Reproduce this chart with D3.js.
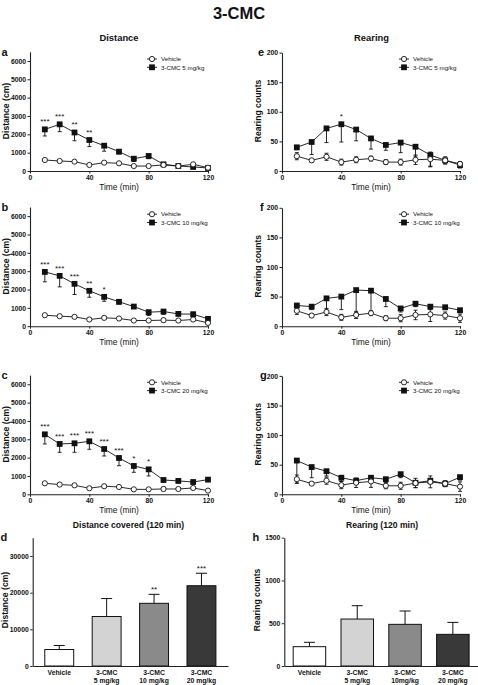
<!DOCTYPE html>
<html>
<head>
<meta charset="utf-8">
<script src="https://cdn.jsdelivr.net/npm/d3@7"></script>
<style>
  body { margin: 0; background: #fff; }
  svg text { font-family: "Liberation Sans", Arial, Helvetica, sans-serif; fill: #111; }
</style>
</head>
<body>
<svg id="fig" width="478" height="685"></svg>
<script>
// time points (min)
const timePoints = [10, 20, 30, 40, 50, 60, 70, 80, 90, 100, 110, 120];
const timeTicks = [0, 40, 80, 120];
const distTicks = [0, 1000, 2000, 3000, 4000, 5000, 6000];
const rearTicks = [0, 50, 100, 150, 200];

// a: distance, vehicle vs 3-CMC 5 mg/kg
const vehDistA = [600, 545, 510, 330, 455, 420, 270, 270, 330, 270, 365, 180];
const vehDistAErr = [60, 50, 50, 60, 70, 50, 40, 50, 100, 60, 80, 50];
const cmc5Dist = [2270, 2545, 2100, 1690, 1380, 1055, 670, 820, 365, 270, 220, 165];
const cmc5DistErr = [360, 400, 450, 360, 300, 120, 150, 150, 100, 80, 60, 50];
const starsA = ["***", "***", "**", "**", "", "", "", "", "", "", "", ""];

// b: distance, vehicle vs 3-CMC 10 mg/kg
const vehDistB = [600, 545, 510, 365, 455, 420, 310, 310, 330, 310, 365, 180];
const vehDistBErr = [60, 50, 50, 60, 70, 50, 40, 50, 100, 60, 80, 50];
const cmc10Dist = [2960, 2745, 2310, 1930, 1600, 1330, 1070, 765, 800, 670, 655, 400];
const cmc10DistErr = [540, 600, 580, 350, 240, 120, 100, 180, 150, 100, 100, 80];
const starsB = ["***", "***", "***", "**", "*", "", "", "", "", "", "", ""];

// c: distance, vehicle vs 3-CMC 20 mg/kg
const vehDistC = [600, 530, 490, 330, 440, 400, 270, 270, 290, 290, 345, 200];
const vehDistCErr = [60, 50, 50, 60, 70, 50, 40, 50, 100, 60, 80, 50];
const cmc20Dist = [3270, 2745, 2780, 2890, 2470, 1980, 1545, 1360, 780, 730, 670, 800];
const cmc20DistErr = [525, 455, 490, 435, 380, 420, 345, 360, 100, 100, 100, 80];
const starsC = ["***", "***", "***", "***", "***", "***", "*", "*", "", "", "", ""];

// e: rearing, vehicle vs 3-CMC 5 mg/kg
const vehRearE = [25, 18, 24, 15, 19, 21, 15, 15, 19, 20, 18, 12];
const vehRearEErr = [6, 3, 6, 5, 5, 4, 4, 5, 8, 12, 6, 4];
const cmc5Rear = [40, 49, 72, 79, 70, 55, 44, 48, 41, 27, 18, 10];
const cmc5RearErr = [4, 21, 24, 30, 19, 18, 9, 17, 16, 20, 6, 5];
const starsE = ["", "", "", "*", "", "", "", "", "", "", "", ""];

// f: rearing, vehicle vs 3-CMC 10 mg/kg
const vehRearF = [26, 18, 24, 15, 19, 22, 13.5, 13.5, 19, 20, 18, 13.5];
const vehRearFErr = [6, 3, 6, 5, 6, 4, 4, 6, 8, 12, 6, 7];
const cmc10Rear = [35, 33, 47, 50, 61, 60, 46, 30, 38, 33, 32, 27];
const cmc10RearErr = [4, 5, 20, 22, 38, 35, 13, 6, 5, 5, 4, 4];
const starsF = ["", "", "", "", "", "", "", "", "", "", "", ""];

// g: rearing, vehicle vs 3-CMC 20 mg/kg
const vehRearG = [25.5, 18, 23, 15.5, 19.5, 21.7, 14.4, 14.4, 19, 21, 18, 13];
const vehRearGErr = [7, 3, 6, 6, 8, 10, 5, 6, 8, 10, 5, 8];
const cmc20Rear = [57, 46, 39, 28, 23, 28, 25.5, 34, 19.5, 23, 18, 29];
const cmc20RearErr = [38, 18, 8, 6, 5, 6, 5, 6, 8, 5, 5, 5];
const starsG = ["", "", "", "", "", "", "", "", "", "", "", ""];

// d / h: totals over 120 min
const groups = ["Vehicle", "3-CMC 5", "3-CMC 10", "3-CMC 20"];
const groupLine1 = ["Vehicle", "3-CMC", "3-CMC", "3-CMC"];
const groupLine2D = ["", "5 mg/kg", "10 mg/kg", "20 mg/kg"];
const groupLine2H = ["", "5 mg/kg", "10mg/kg", "20 mg/kg"];
const groupColors = ["#ffffff", "#d3d3d3", "#8a8a8a", "#393939"];
const distTotal = [4500, 13500, 17100, 21900];
const distTotalErr = [1100, 4900, 2450, 3400];
const distTotalStars = ["", "", "**", "***"];
const distTotalTicks = [0, 10000, 20000, 30000];
const rearTotal = [226, 549, 487, 370];
const rearTotalErr = [51, 156, 156, 140];
const rearTotalStars = ["", "", "", ""];
const rearTotalTicks = [0, 500, 1000, 1500];

const svg = d3.select("#fig");
const plain = d3.format("d");

function styleAxis(g) {
  g.select(".domain").attr("stroke", "#222").attr("stroke-width", 1.1);
  g.selectAll(".tick line").attr("stroke", "#222").attr("stroke-width", 1);
  g.selectAll(".tick text")
    .style("font-size", "6.8px")
    .style("font-weight", "bold")
    .attr("fill", "#111");
}

function addText(x, y, txt, size, weight, anchor) {
  return svg.append("text")
    .attr("x", x).attr("y", y)
    .attr("text-anchor", anchor || "middle")
    .style("font-size", size + "px")
    .style("font-weight", weight || "normal")
    .text(txt);
}

function yLabel(xBase, yCenter, txt) {
  svg.append("text")
    .attr("transform", "rotate(-90)")
    .attr("x", -yCenter)
    .attr("y", xBase)
    .attr("text-anchor", "middle")
    .style("font-size", "8.6px")
    .style("font-weight", "bold")
    .text(txt);
}

// one time course panel (vehicle circles + drug squares)
function timeCourse(p) {
  const x = d3.scaleLinear().domain([0, 120]).range([p.left, p.left + 178]);
  const y = d3.scaleLinear().domain([0, p.yMax]).range([p.bottom, p.bottom - p.h]);
  const g = svg.append("g");

  g.append("g")
    .attr("transform", `translate(0,${p.bottom})`)
    .call(d3.axisBottom(x).tickValues(timeTicks).tickFormat(plain).tickSize(2.5).tickPadding(1.5).tickSizeOuter(0))
    .call(styleAxis);
  g.append("g")
    .attr("transform", `translate(${p.left},0)`)
    .call(d3.axisLeft(y).tickValues(p.yTicks).tickFormat(plain).tickSize(2.5).tickPadding(1.5).tickSizeOuter(0))
    .call(styleAxis);

  const veh = timePoints.map((t, i) => ({ t: t, v: p.veh[i], e: p.vehErr[i] }));
  const drug = timePoints.map((t, i) => ({ t: t, v: p.drug[i], e: p.drugErr[i], s: p.stars[i] }));
  const line = d3.line().x(d => x(d.t)).y(d => y(d.v));

  g.append("path").datum(veh).attr("d", line)
    .attr("fill", "none").attr("stroke", "#111").attr("stroke-width", 0.9);
  g.append("path").datum(drug).attr("d", line)
    .attr("fill", "none").attr("stroke", "#111").attr("stroke-width", 0.9);

  // error bars: drug downward only, vehicle both ways
  const eb = g.append("g").attr("stroke", "#111").attr("stroke-width", 0.9);
  drug.forEach(d => {
    const lo = y(Math.max(0, d.v - d.e));
    eb.append("line").attr("x1", x(d.t)).attr("x2", x(d.t)).attr("y1", y(d.v)).attr("y2", lo);
    eb.append("line").attr("x1", x(d.t) - 2).attr("x2", x(d.t) + 2).attr("y1", lo).attr("y2", lo);
  });
  veh.forEach(d => {
    const lo = y(Math.max(0, d.v - d.e)), hi = y(d.v + d.e);
    eb.append("line").attr("x1", x(d.t)).attr("x2", x(d.t)).attr("y1", hi).attr("y2", lo);
    eb.append("line").attr("x1", x(d.t) - 2).attr("x2", x(d.t) + 2).attr("y1", lo).attr("y2", lo);
    eb.append("line").attr("x1", x(d.t) - 2).attr("x2", x(d.t) + 2).attr("y1", hi).attr("y2", hi);
  });

  g.selectAll(".sq").data(drug).enter().append("rect")
    .attr("x", d => x(d.t) - 2.9).attr("y", d => y(d.v) - 2.9)
    .attr("width", 5.8).attr("height", 5.8).attr("fill", "#111");
  g.selectAll(".ci").data(veh).enter().append("circle")
    .attr("cx", d => x(d.t)).attr("cy", d => y(d.v)).attr("r", 2.6)
    .attr("fill", "#fff").attr("stroke", "#111").attr("stroke-width", 0.9);

  g.selectAll(".star").data(drug.filter(d => d.s)).enter().append("text")
    .attr("x", d => x(d.t)).attr("y", d => y(d.v) - 5)
    .attr("text-anchor", "middle")
    .style("font-size", "8px")
    .text(d => d.s);

  // legend
  const lx = p.left + 122, ly = p.bottom - 112;
  const lg = g.append("g");
  lg.append("line").attr("x1", lx - 5).attr("x2", lx + 5).attr("y1", ly).attr("y2", ly)
    .attr("stroke", "#111").attr("stroke-width", 0.9);
  lg.append("circle").attr("cx", lx).attr("cy", ly).attr("r", 2.6)
    .attr("fill", "#fff").attr("stroke", "#111").attr("stroke-width", 0.9);
  lg.append("line").attr("x1", lx - 5).attr("x2", lx + 5).attr("y1", ly + 8.3).attr("y2", ly + 8.3)
    .attr("stroke", "#111").attr("stroke-width", 0.9);
  lg.append("rect").attr("x", lx - 2.9).attr("y", ly + 8.3 - 2.9).attr("width", 5.8).attr("height", 5.8)
    .attr("fill", "#111");
  lg.append("text").attr("x", lx + 9).attr("y", ly + 2.2).style("font-size", "6.2px").text("Vehicle");
  lg.append("text").attr("x", lx + 9).attr("y", ly + 10.5).style("font-size", "6.2px").text(p.drugName);

  addText(p.left + 89, p.bottom + 18.5, "Time (min)", 8.4);
  addText(p.letterX, p.bottom - 115, p.letter, 11, "bold", "start");
  yLabel(p.labelX, p.bottom - 60, p.yLabel);
}

// one bar panel (total over 120 min)
function barPanel(p) {
  const x = d3.scaleBand().domain(groups).range([p.left, p.right])
    .paddingInner(p.padIn).paddingOuter(p.padOut);
  const y = d3.scaleLinear().domain([0, p.yMax]).range([p.bottom, p.top]);
  const g = svg.append("g");

  const bars = groups.map((k, i) => ({ k: k, v: p.values[i], e: p.errs[i], s: p.stars[i], c: groupColors[i] }));

  // error bars (upward)
  bars.forEach(d => {
    const cx = x(d.k) + x.bandwidth() / 2, hi = y(d.v + d.e);
    g.append("line").attr("x1", cx).attr("x2", cx).attr("y1", y(d.v)).attr("y2", hi)
      .attr("stroke", "#111").attr("stroke-width", 1);
    g.append("line").attr("x1", cx - 5.5).attr("x2", cx + 5.5).attr("y1", hi).attr("y2", hi)
      .attr("stroke", "#111").attr("stroke-width", 1);
  });

  g.selectAll(".bar").data(bars).enter().append("rect")
    .attr("x", d => x(d.k)).attr("y", d => y(d.v))
    .attr("width", x.bandwidth()).attr("height", d => y(0) - y(d.v))
    .attr("fill", d => d.c).attr("stroke", "#111").attr("stroke-width", 1);

  g.selectAll(".star").data(bars.filter(d => d.s)).enter().append("text")
    .attr("x", d => x(d.k) + x.bandwidth() / 2).attr("y", d => y(d.v + d.e) - 2.6)
    .attr("text-anchor", "middle")
    .style("font-size", "8px")
    .text(d => d.s);

  g.append("g")
    .attr("transform", `translate(${p.left},0)`)
    .call(d3.axisLeft(y).tickValues(p.yTicks).tickFormat(plain).tickSize(2.5).tickPadding(1.5).tickSizeOuter(0))
    .call(styleAxis);

  // x axis with two-line category labels
  g.append("g")
    .attr("transform", `translate(0,${p.bottom})`)
    .call(d3.axisBottom(x).tickSize(0).tickSizeOuter(0).tickFormat(() => ""))
    .call(styleAxis)
    .selectAll(".tick")
    .append("text")
    .attr("y", 0)
    .attr("text-anchor", "middle")
    .style("font-size", "6.8px")
    .style("font-weight", "bold")
    .attr("fill", "#111")
    .each(function (d, i) {
      const t = d3.select(this);
      t.append("tspan").attr("x", 0).attr("y", 9.3).text(groupLine1[i]);
      if (p.line2[i]) t.append("tspan").attr("x", 0).attr("y", 17.3).text(p.line2[i]);
    });

  addText(p.letterX, 541, p.letter, 11, "bold", "start");
  yLabel(p.labelX, 600, p.yLabel);
}

// titles
addText(239, 18.5, "3-CMC", 16.5, "bold");
addText(119, 41, "Distance", 9.4, "bold");
addText(371.5, 41, "Rearing", 9.4, "bold");
addText(128.5, 527.5, "Distance covered (120 min)", 8.6, "bold");
addText(382, 527.5, "Rearing (120 min)", 8.6, "bold");

const rowBottoms = [171, 326.2, 494.3];

timeCourse({ left: 30, bottom: rowBottoms[0], h: 119.2, yMax: 6500, yTicks: distTicks,
  veh: vehDistA, vehErr: vehDistAErr, drug: cmc5Dist, drugErr: cmc5DistErr, stars: starsA,
  drugName: "3-CMC 5 mg/kg", letter: "a", letterX: 1.5, labelX: 9.3, yLabel: "Distance (cm)" });
timeCourse({ left: 30, bottom: rowBottoms[1], h: 119.2, yMax: 6500, yTicks: distTicks,
  veh: vehDistB, vehErr: vehDistBErr, drug: cmc10Dist, drugErr: cmc10DistErr, stars: starsB,
  drugName: "3-CMC 10 mg/kg", letter: "b", letterX: 1.5, labelX: 9.3, yLabel: "Distance (cm)" });
timeCourse({ left: 30, bottom: rowBottoms[2], h: 119.2, yMax: 6500, yTicks: distTicks,
  veh: vehDistC, vehErr: vehDistCErr, drug: cmc20Dist, drugErr: cmc20DistErr, stars: starsC,
  drugName: "3-CMC 20 mg/kg", letter: "c", letterX: 1.5, labelX: 9.3, yLabel: "Distance (cm)" });

timeCourse({ left: 282, bottom: rowBottoms[0], h: 118.4, yMax: 200, yTicks: rearTicks,
  veh: vehRearE, vehErr: vehRearEErr, drug: cmc5Rear, drugErr: cmc5RearErr, stars: starsE,
  drugName: "3-CMC 5 mg/kg", letter: "e", letterX: 258, labelX: 260.5, yLabel: "Rearing counts" });
timeCourse({ left: 282, bottom: rowBottoms[1], h: 118.4, yMax: 200, yTicks: rearTicks,
  veh: vehRearF, vehErr: vehRearFErr, drug: cmc10Rear, drugErr: cmc10RearErr, stars: starsF,
  drugName: "3-CMC 10 mg/kg", letter: "f", letterX: 260, labelX: 260.5, yLabel: "Rearing counts" });
timeCourse({ left: 282, bottom: rowBottoms[2], h: 118.4, yMax: 200, yTicks: rearTicks,
  veh: vehRearG, vehErr: vehRearGErr, drug: cmc20Rear, drugErr: cmc20RearErr, stars: starsG,
  drugName: "3-CMC 20 mg/kg", letter: "g", letterX: 260, labelX: 260.5, yLabel: "Rearing counts" });

barPanel({ left: 32.7, right: 228, padIn: 0.39, padOut: 0.255, bottom: 666, top: 537.7,
  yMax: 35000, yTicks: distTotalTicks, values: distTotal, errs: distTotalErr, stars: distTotalStars,
  line2: groupLine2D, letter: "d", letterX: 0.5, labelX: 8.3, yLabel: "Distance (cm)" });
barPanel({ left: 284.3, right: 478, padIn: 0.32, padOut: 0.186, bottom: 666, top: 537.7,
  yMax: 1500, yTicks: rearTotalTicks, values: rearTotal, errs: rearTotalErr, stars: rearTotalStars,
  line2: groupLine2H, letter: "h", letterX: 252.5, labelX: 260, yLabel: "Rearing counts" });
</script>
</body>
</html>
